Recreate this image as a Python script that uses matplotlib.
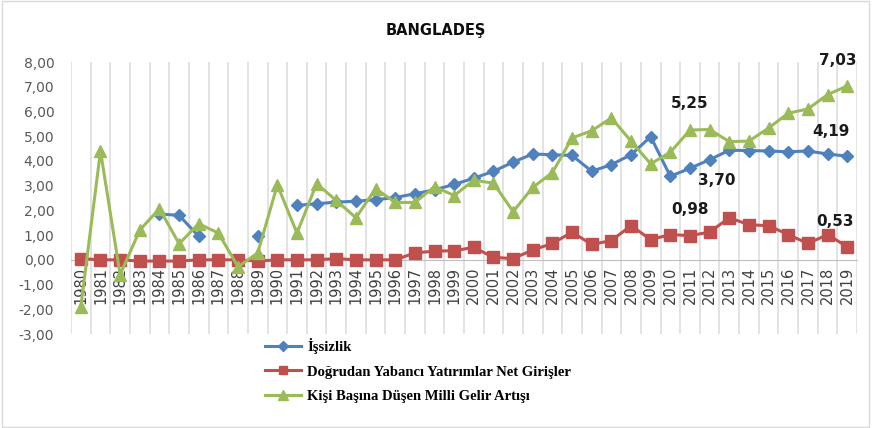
import numpy as np
import matplotlib.pyplot as plt
from matplotlib.patches import Rectangle

# data
years = [str(y) for y in range(1980, 2020)]
nan = np.nan
issizlik = [nan, nan, nan, nan, 1.85, 1.80, 0.95, nan, nan, 0.95,
            nan, 2.20, 2.27, 2.33, 2.37, 2.43, 2.52, 2.67, 2.83, 3.05,
            3.30, 3.58, 3.95, 4.28, 4.25, 4.22, 3.58, 3.85, 4.25, 4.98,
            3.38, 3.70, 4.05, 4.43, 4.42, 4.40, 4.37, 4.40, 4.28, 4.19]
dyy = [0.05, 0.00, 0.00, -0.05, -0.05, -0.05, 0.00, 0.00, 0.00, -0.05,
       0.00, 0.00, 0.00, 0.05, 0.00, 0.00, 0.00, 0.28, 0.35, 0.37,
       0.50, 0.10, 0.05, 0.40, 0.66, 1.12, 0.62, 0.78, 1.38, 0.82,
       1.02, 0.98, 1.12, 1.70, 1.42, 1.38, 1.02, 0.66, 1.02, 0.53]
gelir = [-1.90, 4.40, -0.60, 1.20, 2.07, 0.65, 1.46, 1.08, -0.28, 0.27,
         3.03, 1.08, 3.08, 2.40, 1.70, 2.88, 2.32, 2.32, 2.96, 2.60,
         3.22, 3.10, 1.95, 2.93, 3.53, 4.93, 5.22, 5.74, 4.80, 3.88,
         4.35, 5.25, 5.27, 4.78, 4.80, 5.33, 5.93, 6.10, 6.68, 7.03]
labels = ["İşsizlik", "Doğrudan Yabancı Yatırımlar Net Girişler",
          "Kişi Başına Düşen Milli Gelir Artışı"]

blue = "#4F81BD"
red = "#C0504D"
green = "#9BBB59"

fig = plt.figure(figsize=(8.72, 4.28), dpi=100)
ax = fig.add_axes([71/872, 1-334/428, (857-71)/872, (334-62)/428])
x = np.arange(len(years))

l1, = ax.plot(x, issizlik, color=blue, lw=2.2, marker="D", ms=6.5, zorder=3)
l2, = ax.plot(x, dyy, color=red, lw=2.2, marker="s", ms=8, zorder=3)
l3, = ax.plot(x, gelir, color=green, lw=2.2, marker="^", ms=8.5, zorder=4)

# vertical category gridlines
for b in np.arange(-0.5, len(years), 1.0):
    ax.axvline(b, color="#DEDEDE", lw=1.2, zorder=0)

# x axis crosses at 0 (set before ticks, set_position resets them)
for s in ["top", "right", "left"]:
    ax.spines[s].set_visible(False)
ax.spines["bottom"].set_position(("data", 0))
ax.spines["bottom"].set_color("#BFBFBF")

ax.set_xlim(-0.5, len(years) - 0.5)
ax.set_ylim(-3, 8)
ax.set_yticks(np.arange(-3, 9, 1))
ax.set_yticklabels([f"{v:.2f}".replace(".", ",") for v in np.arange(-3, 9, 1)],
                   color="#595959", fontsize=10)
ax.set_xticks(x)
ax.set_xticklabels(years, rotation=90, fontsize=10.5, color="#404040")
ax.tick_params(axis="both", length=0)
ax.tick_params(axis="x", pad=5)
ax.tick_params(axis="y", pad=12)

# data labels
lab = dict(fontsize=11, fontweight="bold", color="#1a1a1a",
           textcoords="offset points", ha="center", va="center")
ax.annotate("5,25", (31, gelir[31]), xytext=(0, 19), **lab)
ax.annotate("7,03", (39, gelir[39]), xytext=(-7, 18), **lab)
ax.annotate("4,19", (39, issizlik[39]), xytext=(-12, 18), **lab)
ax.annotate("3,70", (31, issizlik[31]), xytext=(19, -9), **lab)
ax.annotate("0,98", (31, dyy[31]), xytext=(0, 19), **lab)
ax.annotate("0,53", (39, dyy[39]), xytext=(-9, 18), **lab)

fig.text(0.5, 1-30/428, "BANGLADEŞ", ha="center", va="center",
         fontsize=10.5, fontweight="bold", color="#0d0d0d")

fig.legend([l1, l2, l3], labels, loc="upper left",
           bbox_to_anchor=(265/872, 1-338/428), frameon=False,
           prop={"family": "Liberation Serif", "weight": "bold", "size": 10.5},
           handlelength=2.5, handletextpad=0.4, labelspacing=0.78,
           borderaxespad=0, borderpad=0, markerscale=0.8)

fig.add_artist(Rectangle((0.002, 0.003), 0.995, 0.994, transform=fig.transFigure,
                         fill=False, edgecolor="#D9D9D9", lw=1))

fig.savefig("out.png", dpi=100)
